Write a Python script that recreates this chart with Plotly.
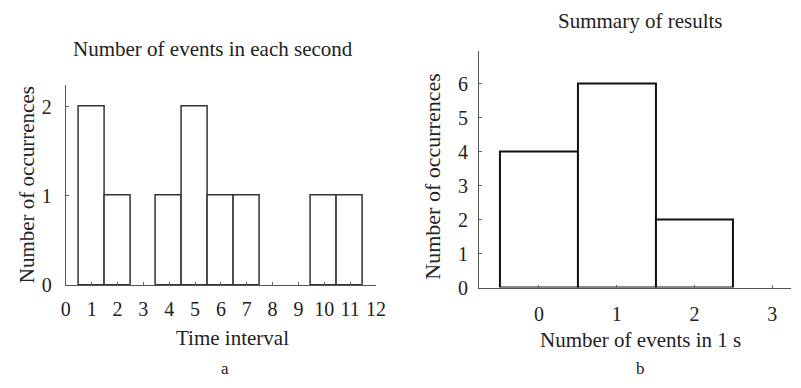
import plotly.graph_objects as go

# Panel a: number of events in each second
time_intervals = [1, 2, 4, 5, 6, 7, 10, 11]
events_per_second = [2, 1, 1, 2, 1, 1, 1, 1]
a_xticks = list(range(0, 13))
a_yticks = [0, 1, 2]

# Panel b: summary of results
events_in_1s = [0, 1, 2]
occurrences = [4, 6, 2]
b_xticks = [0, 1, 2, 3]
b_yticks = [0, 1, 2, 3, 4, 5, 6]

FONT = "Liberation Serif"
TXT = "#222"
W, H = 801, 388

fig = go.Figure()
fig.add_trace(go.Bar(x=time_intervals, y=events_per_second, width=1,
                     marker=dict(color="white", line=dict(color="#333", width=1.5)),
                     xaxis="x", yaxis="y", showlegend=False))
fig.add_trace(go.Bar(x=events_in_1s, y=occurrences, width=1,
                     marker=dict(color="white", line=dict(color="#111", width=2)),
                     xaxis="x2", yaxis="y2", showlegend=False))

def px_x(p):
    return p / W

def px_y(p):
    return 1 - p / H

axis_common = dict(showgrid=False, zeroline=False, showline=True, linecolor="#555",
                   linewidth=1, ticks="inside", ticklen=3, tickcolor="#666",
                   tickfont=dict(family=FONT, size=20, color=TXT))

fig.update_layout(
    width=W, height=H, margin=dict(l=0, r=0, t=0, b=0),
    paper_bgcolor="white", plot_bgcolor="white", bargap=0,
    xaxis=dict(domain=[px_x(62), px_x(378)], range=[0, 12], tickvals=a_xticks,
               anchor="y", ticklabelstandoff=6, **axis_common),
    yaxis=dict(domain=[px_y(293.7), px_y(87)], range=[0, 2.247], tickvals=a_yticks,
               anchor="x", ticklabelstandoff=9, **axis_common),
    xaxis2=dict(domain=[px_x(483), 1.0], range=[-0.77, 3.24], tickvals=b_xticks,
                anchor="y2", ticklabelstandoff=8, **axis_common),
    yaxis2=dict(domain=[px_y(296), px_y(52)], range=[0, 6.97], tickvals=b_yticks,
                anchor="x2", ticklabelstandoff=6, **axis_common),
)

def ann(text, x, y, size=21, angle=0):
    fig.add_annotation(text=text, x=px_x(x), y=px_y(y), xref="paper", yref="paper",
                       showarrow=False, textangle=angle, xanchor="center", yanchor="middle",
                       font=dict(family=FONT, size=size, color=TXT))

ann("Number of events in each second", 212, 50)
ann("Number of occurrences", 22, 190, 21, -90)
ann("Time interval", 232, 348)
ann("a", 224, 379, 17)

ann("Summary of results", 647, 22)
ann("Number of occurrences", 436, 182, 22, -90)
ann("Number of events in 1 s", 648, 350)
ann("b", 648, 379, 17)

post = """
document.documentElement.style.margin='0';
document.body.style.margin='0';
document.documentElement.style.overflow='hidden';
"""

fig.write_html("out.html", post_script=post, config={"displayModeBar": False})
